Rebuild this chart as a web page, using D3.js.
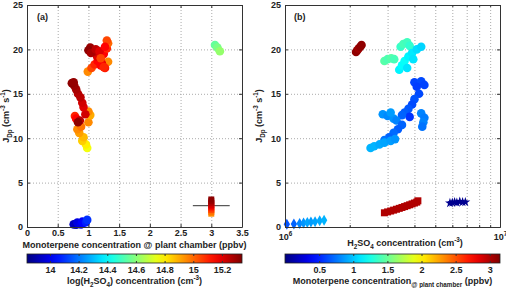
<!DOCTYPE html>
<html>
<head>
<meta charset="utf-8">
<script src="https://cdn.jsdelivr.net/npm/d3@7"></script>
<style>
body { margin: 0; background: #fff; }
text { font-family: "Liberation Sans", Arial, sans-serif; font-weight: bold; fill: #222; }
.grid line { stroke: #aaa; stroke-dasharray: 1,2; }
.grid path { display: none; }
.ax path, .ax line { stroke: #333; }
</style>
</head>
<body>
<div id="chart"></div>
<script>
// ---- data ----
// panel (a): [monoterpene ppbv, J, ln(H2SO4)]
var aCircles = [
    [0.76, 0.30, 13.93], [0.80, 0.25, 13.92], [0.84, 0.35, 13.96], [0.82, 0.50, 13.98],
    [0.88, 0.30, 14.00], [0.90, 0.60, 14.02], [0.92, 0.45, 14.03], [0.96, 0.55, 14.07], [0.98, 0.80, 14.10],
    [0.98, 8.9, 14.76], [0.96, 9.3, 14.80], [0.90, 9.7, 14.85], [0.92, 10.1, 14.88],
    [0.85, 10.6, 14.92], [0.82, 11.0, 14.95], [0.88, 11.3, 14.98], [1.00, 11.8, 14.95],
    [1.03, 12.6, 14.90], [1.00, 13.0, 14.95], [0.78, 12.5, 15.10], [0.80, 12.2, 15.15],
    [0.86, 12.0, 15.25], [0.83, 11.8, 15.32], [0.95, 12.7, 15.22], [0.92, 13.5, 15.20],
    [0.90, 14.0, 15.22], [0.87, 14.6, 15.25], [0.83, 15.0, 15.26], [0.80, 15.5, 15.28],
    [0.77, 15.9, 15.30], [0.73, 16.2, 15.32], [0.76, 16.3, 15.31],
    [0.99, 17.5, 14.95], [1.05, 17.9, 15.05], [1.10, 18.3, 15.10], [1.15, 18.7, 15.15],
    [1.32, 18.6, 14.95], [1.27, 17.9, 15.12], [1.22, 18.4, 15.18], [1.20, 18.2, 15.15],
    [1.25, 18.0, 15.10], [1.20, 19.1, 15.20], [1.25, 19.5, 15.15], [1.30, 20.1, 15.10],
    [1.32, 20.7, 15.00], [1.30, 21.0, 15.05], [1.14, 19.2, 15.20], [1.08, 19.7, 15.25],
    [1.03, 20.2, 15.30], [1.00, 19.9, 15.32], [1.04, 19.6, 15.28], [1.12, 20.0, 15.25],
    [1.18, 19.8, 15.20], [1.20, 19.0, 15.05], [1.27, 20.3, 15.15],
    [3.06, 20.5, 14.55], [3.10, 20.2, 14.58], [3.14, 19.8, 14.62]
];
var aSquares = [
    [3.0, 1.5, 14.95], [3.0, 1.7, 14.98], [3.0, 1.9, 15.05], [3.0, 2.1, 15.10],
    [3.0, 2.3, 15.18], [3.0, 2.5, 15.22], [3.0, 2.7, 15.26], [3.0, 2.9, 15.30], [3.0, 3.1, 15.32]
];
var aErrorBar = [2.7, 3.3, 2.4]; // xmin, xmax, J

// panel (b): [H2SO4 cm-3, J, monoterpene ppbv]
var bCircles = [
    [2.14e6, 19.7, 3.10], [2.17e6, 19.9, 3.10], [2.20e6, 20.1, 3.05], [2.24e6, 20.3, 3.10], [2.27e6, 20.5, 3.10],
    [2.90e6, 18.7, 1.45], [3.00e6, 18.9, 1.42], [3.12e6, 19.0, 1.45], [3.22e6, 18.9, 1.40],
    [3.45e6, 20.3, 1.35], [3.55e6, 20.6, 1.40], [3.70e6, 20.8, 1.38], [3.80e6, 20.4, 1.33],
    [3.40e6, 17.7, 1.15], [3.50e6, 18.2, 1.18], [3.60e6, 18.7, 1.20], [3.75e6, 19.2, 1.15],
    [3.90e6, 19.6, 1.12], [4.10e6, 20.0, 1.08], [4.30e6, 20.3, 1.05], [3.70e6, 17.9, 1.10], [3.95e6, 18.9, 1.10],
    [4.00e6, 16.3, 0.60], [4.30e6, 16.4, 0.62], [4.45e6, 16.0, 0.60], [4.10e6, 15.8, 0.58],
    [4.20e6, 15.0, 0.62], [4.00e6, 14.4, 0.65], [3.90e6, 13.8, 0.62], [3.75e6, 13.3, 0.66],
    [3.60e6, 12.9, 0.68], [3.80e6, 12.4, 0.55], [3.50e6, 12.6, 0.70],
    [2.85e6, 12.7, 0.85], [3.00e6, 12.5, 0.82], [3.20e6, 12.2, 0.85], [3.10e6, 12.9, 0.88], [3.30e6, 12.0, 0.80],
    [4.30e6, 12.8, 0.80], [4.45e6, 12.3, 0.78], [4.40e6, 11.8, 0.80], [4.35e6, 11.3, 0.75],
    [3.50e6, 11.5, 0.70], [3.35e6, 11.0, 0.68], [3.20e6, 10.6, 0.72], [3.05e6, 10.1, 0.70], [2.90e6, 9.8, 0.75],
    [2.50e6, 8.9, 0.95], [2.60e6, 9.1, 0.95], [2.75e6, 9.3, 0.92], [2.90e6, 9.5, 0.90],
    [3.10e6, 9.7, 0.88], [3.25e6, 9.9, 0.85]
];
var bDiamonds = [
    [1.02e6, 0.30, 0.65], [1.10e6, 0.35, 0.70], [1.17e6, 0.40, 0.80], [1.22e6, 0.45, 0.85],
    [1.27e6, 0.50, 0.90], [1.32e6, 0.55, 0.88], [1.38e6, 0.60, 0.90], [1.45e6, 0.70, 0.92], [1.52e6, 0.75, 0.95]
];
var bSquares = [
    [2.90e6, 1.6, 3.0], [3.00e6, 1.7, 3.0], [3.10e6, 1.8, 3.0], [3.20e6, 1.9, 3.0], [3.30e6, 2.0, 3.0],
    [3.40e6, 2.1, 3.0], [3.50e6, 2.2, 3.0], [3.60e6, 2.3, 3.0], [3.70e6, 2.4, 3.0], [3.80e6, 2.5, 3.0],
    [3.90e6, 2.6, 3.0], [4.00e6, 2.7, 3.0], [4.10e6, 2.8, 3.0], [4.15e6, 2.95, 3.0]
];
var bStars = [
    [5.85e6, 2.70, 0.05], [6.00e6, 2.75, 0.05], [6.15e6, 2.80, 0.05], [6.30e6, 2.75, 0.05],
    [6.50e6, 2.85, 0.05], [6.70e6, 2.80, 0.05], [6.90e6, 2.80, 0.05]
];

var yTicks = [0, 5, 10, 15, 20, 25];
var aXTicks = [0, 0.5, 1, 1.5, 2, 2.5, 3, 3.5];
var aCbTicks = [14, 14.2, 14.4, 14.6, 14.8, 15, 15.2];
var bCbTicks = [0.5, 1, 1.5, 2, 2.5, 3];
var bMinor = [2e6, 3e6, 4e6, 5e6, 6e6, 7e6, 8e6, 9e6];

var svgWidth = 506;
var svgHeight = 288;
var fs = 9;

var svg = d3.select("#chart")
    .append("svg")
    .attr("width", svgWidth)
    .attr("height", svgHeight);

// MATLAB jet colormap
function jet(t) {
    t = Math.max(0, Math.min(1, t));
    var c = v => Math.round(255 * Math.max(0, Math.min(1, 1.5 - Math.abs(v))));
    return `rgb(${c(4 * t - 3)},${c(4 * t - 2)},${c(4 * t - 1)})`;
}

// text with sub/superscripts: parts = [[string, "n"|"sub"|"sup"], ...]
function rich(t, parts, size) {
    var shift = 0;
    parts.forEach(function(p) {
        var target = p[1] === "sub" ? size * 0.35 : p[1] === "sup" ? -size * 0.4 : 0;
        var span = t.append("tspan")
            .attr("font-size", p[1] === "n" ? size : size * 0.7)
            .text(p[0]);
        if (target - shift !== 0) span.attr("dy", target - shift);
        shift = target;
    });
    return t;
}

var yScale = d3.scaleLinear().domain([0, 25]).range([227, 5]);
var aX = d3.scaleLinear().domain([0, 3.5]).range([27, 242]);
var bX = d3.scaleLog().domain([1e6, 1e7]).range([285, 500]);
var aColor = d3.scaleLinear().domain([13.84, 15.34]).range([0, 1]);
var bColor = d3.scaleLinear().domain([0, 3.15]).range([0, 1]);

function drawPanel(x, xTicks, minorTicks, x0, x1) {
    var g = svg.append("g");

    // grid
    g.append("g").attr("class", "grid")
        .attr("transform", `translate(0, 227)`)
        .call(d3.axisBottom(x).tickValues(xTicks.concat(minorTicks || [])).tickSize(-222).tickFormat(""));
    g.append("g").attr("class", "grid")
        .attr("transform", `translate(${x0}, 0)`)
        .call(d3.axisLeft(yScale).tickValues([5, 10, 15, 20]).tickSize(-(x1 - x0)).tickFormat(""));
    return g;
}

function drawFrame(x, xTicks, minorTicks, x0, x1, fmt) {
    var g = svg.append("g");
    var bottom = g.append("g").attr("class", "ax")
        .attr("transform", `translate(0, 227)`)
        .call(d3.axisBottom(x).tickValues(xTicks).tickSizeInner(-3).tickSizeOuter(0).tickPadding(3).tickFormat(fmt));
    g.append("g").attr("class", "ax")
        .attr("transform", `translate(0, 5)`)
        .call(d3.axisTop(x).tickValues(xTicks).tickSizeInner(-3).tickSizeOuter(0).tickFormat(""));
    if (minorTicks) {
        g.append("g").attr("class", "ax")
            .attr("transform", `translate(0, 227)`)
            .call(d3.axisBottom(x).tickValues(minorTicks).tickSizeInner(-2).tickSizeOuter(0).tickFormat(""));
        g.append("g").attr("class", "ax")
            .attr("transform", `translate(0, 5)`)
            .call(d3.axisTop(x).tickValues(minorTicks).tickSizeInner(-2).tickSizeOuter(0).tickFormat(""));
    }
    g.append("g").attr("class", "ax")
        .attr("transform", `translate(${x0}, 0)`)
        .call(d3.axisLeft(yScale).tickValues(yTicks).tickSizeInner(-3).tickSizeOuter(0).tickPadding(4));
    g.append("g").attr("class", "ax")
        .attr("transform", `translate(${x1}, 0)`)
        .call(d3.axisRight(yScale).tickValues(yTicks).tickSizeInner(-3).tickSizeOuter(0).tickFormat(""));
    g.selectAll(".tick text").attr("font-size", fs).attr("font-family", null);
    return bottom;
}

function colorbar(cb, ticks, y0, label) {
    var id = "grad" + Math.round(cb.range()[0]);
    var grad = svg.append("defs").append("linearGradient").attr("id", id);
    d3.range(0, 1.0001, 0.05).forEach(function(t) {
        grad.append("stop").attr("offset", t).attr("stop-color", jet(t));
    });
    var r = cb.range();
    svg.append("rect")
        .attr("x", r[0]).attr("y", y0)
        .attr("width", r[1] - r[0]).attr("height", 9)
        .attr("fill", `url(#${id})`)
        .attr("stroke", "#222").attr("stroke-width", 0.8);
    var axis = svg.append("g").attr("class", "ax")
        .attr("transform", `translate(0, ${y0 + 9})`)
        .call(d3.axisBottom(cb).tickValues(ticks).tickSizeInner(-2).tickSizeOuter(0).tickPadding(4).tickFormat(d3.format("~g")));
    axis.select(".domain").remove();
    axis.selectAll(".tick text").attr("font-size", fs).attr("font-family", null);
    svg.append("g").attr("class", "ax")
        .attr("transform", `translate(0, ${y0})`)
        .call(d3.axisTop(cb).tickValues(ticks).tickSizeInner(-2).tickSizeOuter(0).tickFormat(""))
        .select(".domain").remove();
    var t = svg.append("text")
        .attr("x", (r[0] + r[1]) / 2)
        .attr("y", y0 + 30)
        .attr("text-anchor", "middle");
    rich(t, label, fs);
}

// ---- panel (a) ----
var gA = drawPanel(aX, aXTicks, null, 27, 242);

gA.selectAll("circle")
    .data(aCircles)
    .enter()
    .append("circle")
    .attr("cx", d => aX(d[0]))
    .attr("cy", d => yScale(d[1]))
    .attr("r", 4.3)
    .attr("fill", d => jet(aColor(d[2])));

gA.append("line")
    .attr("x1", aX(aErrorBar[0]))
    .attr("x2", aX(aErrorBar[1]))
    .attr("y1", yScale(aErrorBar[2]))
    .attr("y2", yScale(aErrorBar[2]))
    .attr("stroke", "#333")
    .attr("stroke-width", 1);

gA.selectAll("rect.sq")
    .data(aSquares)
    .enter()
    .append("rect")
    .attr("x", d => aX(d[0]) - 3)
    .attr("y", d => yScale(d[1]) - 3)
    .attr("width", 6)
    .attr("height", 6)
    .attr("fill", d => jet(aColor(d[2])));

drawFrame(aX, aXTicks, null, 27, 242, d3.format("~g"));

// ---- panel (b) ----
var gB = drawPanel(bX, [1e6, 1e7], bMinor, 285, 500);

gB.selectAll("circle")
    .data(bCircles)
    .enter()
    .append("circle")
    .attr("cx", d => bX(d[0]))
    .attr("cy", d => yScale(d[1]))
    .attr("r", 4.3)
    .attr("fill", d => jet(bColor(d[2])));

gB.selectAll("path.dia")
    .data(bDiamonds)
    .enter()
    .append("path")
    .attr("class", "dia")
    .attr("transform", d => `translate(${bX(d[0])}, ${yScale(d[1])})`)
    .attr("d", d3.symbol(d3.symbolDiamond, 35))
    .attr("fill", d => jet(bColor(d[2])));

gB.selectAll("rect.sq")
    .data(bSquares)
    .enter()
    .append("rect")
    .attr("class", "sq")
    .attr("x", d => bX(d[0]) - 3.5)
    .attr("y", d => yScale(d[1]) - 3.5)
    .attr("width", 7)
    .attr("height", 7)
    .attr("fill", d => jet(bColor(d[2])));

gB.selectAll("path.star")
    .data(bStars)
    .enter()
    .append("path")
    .attr("class", "star")
    .attr("transform", d => `translate(${bX(d[0])}, ${yScale(d[1])})`)
    .attr("d", d3.symbol(d3.symbolStar, 30))
    .attr("fill", d => jet(bColor(d[2])));

var bBottom = drawFrame(bX, [1e6, 1e7], bMinor, 285, 500, () => "");
bBottom.selectAll(".tick text").each(function(d) {
    var t = d3.select(this).attr("y", 13).attr("dy", null);
    rich(t, [["10", "n"], [String(Math.round(Math.log10(d))), "sup"]], fs);
});

// ---- axis labels ----
svg.append("text")
    .attr("x", 134.5).attr("y", 248)
    .attr("text-anchor", "middle")
    .attr("font-size", fs)
    .text("Monoterpene concentration @ plant chamber (ppbv)");

rich(svg.append("text").attr("x", 405).attr("y", 246).attr("text-anchor", "middle"),
    [["H", "n"], ["2", "sub"], ["SO", "n"], ["4", "sub"], [" concentration (cm", "n"], ["-3", "sup"], [")", "n"]], fs);

[9, 262].forEach(function(xp) {
    var t = svg.append("text")
        .attr("transform", `translate(${xp}, 116) rotate(-90)`)
        .attr("text-anchor", "middle");
    rich(t, [["J", "n"], ["Dp", "sub"], [" (cm", "n"], ["-3", "sup"], [" s", "n"], ["-1", "sup"], [")", "n"]], fs);
});

svg.append("text").attr("x", 37).attr("y", 20).attr("font-size", fs)
    .text("(a)");
svg.append("text").attr("x", 294).attr("y", 20).attr("font-size", fs)
    .text("(b)");

// ---- colorbars ----
colorbar(d3.scaleLinear().domain([13.84, 15.34]).range([27, 242]), aCbTicks, 254,
    [["log(H", "n"], ["2", "sub"], ["SO", "n"], ["4", "sub"], [") concentration (cm", "n"], ["-3", "sup"], [")", "n"]]);
colorbar(d3.scaleLinear().domain([0, 3.15]).range([285, 500]), bCbTicks, 254,
    [["Monoterpene concentration", "n"], ["@ plant chamber", "sub"], [" (ppbv)", "n"]]);
</script>
</body>
</html>
